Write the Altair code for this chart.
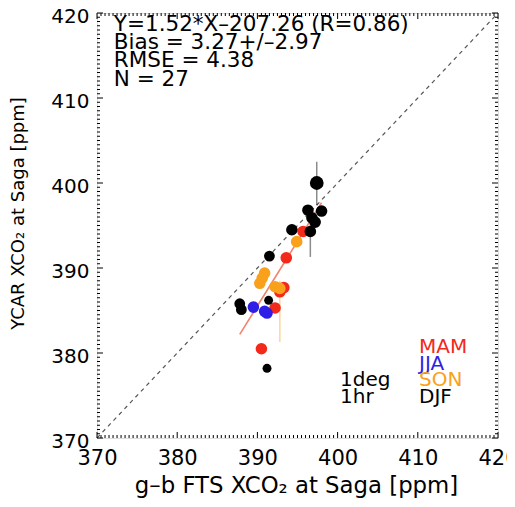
import altair as alt
import pandas as pd
import numpy as np

# ---------------- data ----------------
season = ["MAM", "MAM", "MAM", "MAM", "MAM", "MAM",
          "JJA", "JJA", "JJA",
          "SON", "SON", "SON", "SON", "SON", "SON",
          "DJF", "DJF", "DJF", "DJF", "DJF", "DJF", "DJF", "DJF", "DJF", "DJF", "DJF", "DJF"]
fts = [395.7, 393.6, 392.8, 392.2, 390.5, 393.3,
       389.5, 391.2, 390.9,
       390.9, 390.3, 392.2, 392.8, 394.9, 390.6,
       397.4, 396.3, 398.0, 396.8, 394.3, 396.6, 391.5, 391.4, 387.8, 388.0, 391.2, 397.2]
ycar = [394.3, 391.2, 387.2, 385.3, 380.5, 387.7,
        385.4, 384.7, 384.9,
        389.4, 388.2, 387.8, 387.6, 393.1, 388.8,
        400.0, 396.8, 396.7, 395.9, 394.5, 394.3, 391.4, 386.2, 385.8, 385.1, 378.2, 395.4]
err_lo = [393.8, 390.6, 386.6, 384.7, 380.0, 387.1,
          384.9, 384.2, 384.4,
          388.9, 387.7, 387.3, 381.3, 392.6, 388.3,
          397.4, 396.2, 396.1, 395.3, 393.9, 391.3, 390.9, 385.8, 385.3, 384.6, 377.8, 394.8]
err_hi = [394.8, 391.8, 387.8, 385.9, 381.0, 388.3,
          385.9, 385.2, 385.4,
          389.9, 388.7, 388.3, 388.5, 393.6, 389.3,
          402.5, 397.4, 397.3, 396.5, 395.1, 397.3, 391.9, 386.6, 386.3, 385.6, 378.6, 396.0]
nobs = [6, 6, 6, 6, 6, 6,
        6, 6, 6,
        6, 6, 6, 6, 6, 6,
        9, 6, 6, 6, 6, 6, 5, 3, 5, 5, 3, 6]

season_names = ["MAM", "JJA", "SON", "DJF"]
season_colors = ["#f2291b", "#2e1ee6", "#f9a11b", "#000000"]

stats_lines = ["Y=1.52*X\u2013207.26 (R=0.86)", "Bias = 3.27+/\u20132.97", "RMSE = 4.38", "N = 27"]
fit_slope, fit_intercept = 1.52, -207.26
res_lines = ["1deg", "1hr"]

major_ticks = [370, 380, 390, 400, 410, 420]
minor_ticks = [v for v in np.arange(370, 420.01, 0.5) if v not in major_ticks]

# ---------------- layout ----------------
W, H = 401, 425
FONT = "DejaVu Sans"

df = pd.DataFrame(dict(season=season, fts=fts, ycar=ycar, lo=err_lo, hi=err_hi, nobs=nobs))

xs = alt.Scale(domain=[370, 420], nice=False, zero=False)
ys = alt.Scale(domain=[370, 420], nice=False, zero=False)
cs = alt.Scale(domain=season_names, range=season_colors)

x_axis = alt.Axis(values=major_ticks, format="d", labelFont=FONT, labelFontSize=21, labelColor="black",
                  labelPadding=9, ticks=False, tickSize=0, domain=False, grid=False,
                  labelOverlap=False, labelFlush=False, labelBound=False,
                  title="g\u2013b FTS XCO\u2082 at Saga [ppm]", titleFont=FONT, titleFontSize=22.8,
                  titleFontWeight="normal", titleColor="black", titleX=199, titleY=47,
                  titleBaseline="middle", titleAlign="center")
y_axis = alt.Axis(values=major_ticks, format="d", labelFont=FONT, labelFontSize=20, labelColor="black",
                  labelPadding=8, labelOffset=3, ticks=False, tickSize=0, domain=False, grid=False,
                  labelOverlap=False, labelFlush=False, labelBound=False,
                  title="YCAR XCO\u2082 at Saga [ppm]", titleFont=FONT, titleFontSize=18,
                  titleFontWeight="normal", titleColor="black", titleX=-79, titleY=200,
                  titleBaseline="middle", titleAlign="center", titleAngle=270)


def X(field):
    return alt.X(field, scale=xs, axis=x_axis)


def Y(field):
    return alt.Y(field, scale=ys, axis=y_axis)


base = alt.Chart(df)

# 1:1 line
one = pd.DataFrame({"a": [370, 420]})
one_line = alt.Chart(one).mark_line(color="#555555", strokeWidth=1.2, strokeDash=[4, 4]).encode(
    x=X("a:Q"), y=Y("a:Q"))

# fit line
fx = [min(fts), max(fts)]
fit_df = pd.DataFrame({"x": fx, "y": [fit_slope * v + fit_intercept for v in fx]})
fit_line = alt.Chart(fit_df).mark_line(color="#f2826c", strokeWidth=1.6).encode(x=X("x:Q"), y=Y("y:Q"))

# error bars
errs = base.mark_rule(strokeWidth=1.5, opacity=0.45).encode(
    x=X("fts:Q"), y=Y("lo:Q"), y2="hi:Q",
    color=alt.Color("season:N", scale=cs, legend=None))

# points
pts = base.mark_circle(opacity=1).encode(
    x=X("fts:Q"), y=Y("ycar:Q"),
    color=alt.Color("season:N", scale=cs, legend=None),
    size=alt.Size("nobs:Q", scale=alt.Scale(domain=[3, 9], range=[80, 190]), legend=None))

# inward box ticks
maj = pd.DataFrame({"v": major_ticks})
mnr = pd.DataFrame({"v": minor_ticks})
tick_layers = []
for d, L in ((maj, 6), (mnr, 3)):
    c = alt.Chart(d).mark_rule(color="black", strokeWidth=1)
    tick_layers += [
        c.encode(x=X("v:Q"), y=alt.value(H), y2=alt.value(H - L)),
        c.encode(x=X("v:Q"), y=alt.value(0), y2=alt.value(L)),
        c.encode(y=Y("v:Q"), x=alt.value(0), x2=alt.value(L)),
        c.encode(y=Y("v:Q"), x=alt.value(W), x2=alt.value(W - L)),
    ]

# statistics text
st = pd.DataFrame({"t": stats_lines, "x": [372.1] * 4, "y": [417.9 - 2.15 * i for i in range(4)]})
stats = alt.Chart(st).mark_text(align="left", baseline="alphabetic", font=FONT, fontSize=21.5,
                                color="black").encode(x=X("x:Q"), y=Y("y:Q"), text="t:N")

# season legend text
lg = pd.DataFrame({"season": season_names, "x": [410.15] * 4,
                   "y": [380.0 - 1.97 * i for i in range(4)]})
legend_txt = alt.Chart(lg).mark_text(align="left", baseline="alphabetic", font=FONT, fontSize=20).encode(
    x=X("x:Q"), y=Y("y:Q"), text="season:N",
    color=alt.Color("season:N", scale=cs, legend=None))

rs = pd.DataFrame({"t": res_lines, "x": [400.3] * 2, "y": [380.0 - 1.97 * 2, 380.0 - 1.97 * 3]})
res_txt = alt.Chart(rs).mark_text(align="left", baseline="alphabetic", font=FONT, fontSize=20,
                                  color="black").encode(x=X("x:Q"), y=Y("y:Q"), text="t:N")

chart = alt.layer(one_line, fit_line, errs, pts, *tick_layers, stats, legend_txt, res_txt).properties(
    width=W, height=H,
    autosize=alt.AutoSizeParams(type="none"),
    padding={"left": 89, "top": 5, "right": 9, "bottom": 61},
).configure_view(stroke="black", strokeWidth=1.2).configure(background="white")

chart.save("out.html", embed_options={"renderer": "svg", "actions": False})
